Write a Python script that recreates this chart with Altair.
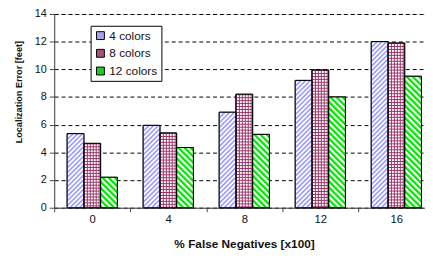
import base64
import altair as alt
import pandas as pd

# ---- data ----
categories = ["0", "4", "8", "12", "16"]
series_names = ["4 colors", "8 colors", "12 colors"]
colors4 = [5.35, 5.95, 6.9, 9.2, 12.0]
colors8 = [4.65, 5.4, 8.2, 9.95, 11.9]
colors12 = [2.2, 4.35, 5.3, 8.0, 9.5]
y_ticks = [0, 2, 4, 6, 8, 10, 12, 14]

rows = []
for name, vals in zip(series_names, [colors4, colors8, colors12]):
    for c, v in zip(categories, vals):
        rows.append({"fn": c, "series": name, "err": v})
df = pd.DataFrame(rows)

FONT = "Liberation Sans"


def svg_uri(body):
    svg = ("<svg xmlns='http://www.w3.org/2000/svg' width='100%' height='100%'>"
           + body + "</svg>")
    return "data:image/svg+xml;base64," + base64.b64encode(svg.encode()).decode()


hatch4 = svg_uri(
    "<defs><pattern id='p' width='3.4' height='3.4' patternUnits='userSpaceOnUse' "
    "patternTransform='rotate(45)'><rect width='1.6' height='3.4' fill='#9999ff'/></pattern></defs>"
    "<rect width='100%' height='100%' fill='#ffffff'/><rect width='100%' height='100%' fill='url(#p)'/>")
grid8 = svg_uri(
    "<defs><pattern id='p' width='3' height='3' patternUnits='userSpaceOnUse'>"
    "<rect width='3' height='1' fill='#993366'/><rect width='1' height='3' fill='#993366'/></pattern></defs>"
    "<rect width='100%' height='100%' fill='#ffffff'/><rect width='100%' height='100%' fill='url(#p)'/>")
hatch12 = svg_uri(
    "<defs><pattern id='p' width='4.4' height='4.4' patternUnits='userSpaceOnUse' "
    "patternTransform='rotate(-45)'><rect width='2.3' height='4.4' fill='#00e600'/></pattern></defs>"
    "<rect width='100%' height='100%' fill='#ffffff'/><rect width='100%' height='100%' fill='url(#p)'/>")

url_expr = (f"datum.series === '4 colors' ? '{hatch4}' : "
            f"(datum.series === '8 colors' ? '{grid8}' : '{hatch12}')")

x_enc = alt.X(
    "fn:N", sort=categories,
    scale=alt.Scale(paddingInner=0, paddingOuter=0, range=[0, 386.5]),
    axis=alt.Axis(labelAngle=0, tickBand="extent", tickSize=4, labelPadding=2,
                  grid=False, domainColor="#444", tickColor="#444",
                  labelFont=FONT, labelFontSize=11.5, labelColor="#111",
                  titleFont=FONT, titleFontSize=12, titleFontWeight="bold",
                  titleColor="#111", titlePadding=14, titleX=193),
    title="% False Negatives [x100]",
)
xoff_enc = alt.XOffset("series:N", sort=series_names,
                       scale=alt.Scale(paddingInner=0, paddingOuter=0.7735))
y_enc = alt.Y(
    "err:Q",
    scale=alt.Scale(domain=[0, 14], nice=False),
    axis=alt.Axis(values=y_ticks, grid=True, gridColor="#000", gridDash=[4, 3],
                  gridWidth=1, domainColor="#444", tickColor="#444", tickSize=5,
                  labelFont=FONT, labelFontSize=11, labelPadding=3, labelColor="#111",
                  titleFont=FONT, titleFontSize=9.3, titleFontWeight="bold",
                  titleColor="#111", titleX=-36, titleY=79, titleAngle=270,
                  titleAlign="center", titleBaseline="middle"),
    title="Localization Error [feet]",
)

base = alt.Chart(df)

legend_bars = base.mark_bar(stroke="black", strokeWidth=1).encode(
    x=x_enc, xOffset=xoff_enc, y=y_enc,
    color=alt.Color(
        "series:N", sort=series_names,
        scale=alt.Scale(domain=series_names, range=["#a3a3f2", "#a8507a", "#22cc22"]),
        legend=alt.Legend(title=None, orient="none", legendX=37, legendY=12,
                          direction="vertical", symbolType="square", symbolSize=64,
                          symbolStrokeColor="black", symbolStrokeWidth=1,
                          symbolOpacity=1, labelFont=FONT, labelFontSize=12,
                          labelColor="#111", labelOffset=3, rowPadding=6,
                          padding=4, strokeColor="black", fillColor="white",
                          cornerRadius=0),
    ),
)

pattern = base.transform_calculate(u=url_expr).mark_image(aspect=False).encode(
    x=x_enc, xOffset=xoff_enc, y=y_enc, y2=alt.datum(0), url="u:N",
)

outline = base.mark_bar(fillOpacity=0, stroke="black", strokeWidth=1).encode(
    x=x_enc, xOffset=xoff_enc, y=y_enc,
)

chart = alt.layer(legend_bars, pattern, outline).properties(
    width=377, height=197,
    autosize=alt.AutoSizeParams(type="none"),
    padding={"left": 47, "top": 4, "right": 0, "bottom": 47},
).configure_view(stroke=None).configure(background="white")

chart.save("out.html", embed_options={"renderer": "svg", "actions": False})
